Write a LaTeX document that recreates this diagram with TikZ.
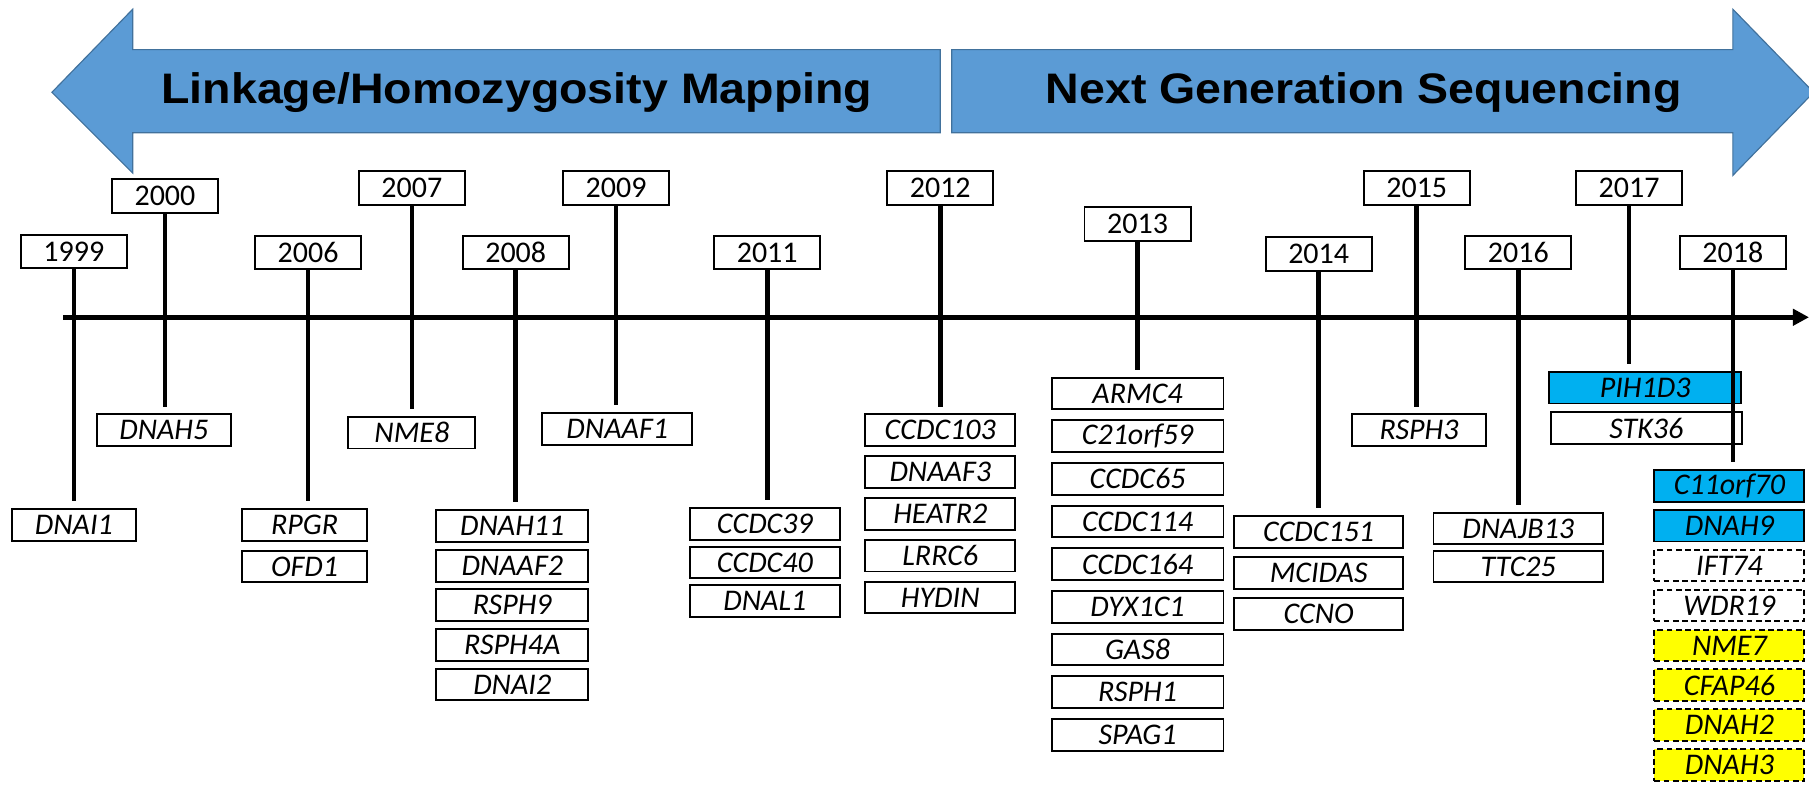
\documentclass[tikz,border=0pt]{standalone}
\usepackage{fontspec}
\setmainfont{Carlito}
\newfontfamily\bannerfont{Liberation Sans}
\usetikzlibrary{arrows.meta}

\definecolor{bannerblue}{HTML}{5B9BD5}
\definecolor{bannerline}{HTML}{41719C}
\definecolor{newcyan}{HTML}{00B0F0}
\definecolor{newyellow}{HTML}{FFFF00}

\tikzset{
  yearbox/.style={draw, line width=1.7pt, fill=white, minimum width=92pt,
    minimum height=29pt, inner sep=0pt, font=\fontsize{26}{26}\selectfont},
  genebox/.style={draw, line width=1.7pt, fill=white, minimum height=27.5pt,
    inner sep=0pt, font=\fontsize{26}{26}\selectfont\itshape},
  cyanbox/.style={genebox, fill=newcyan},
  dashbox/.style={genebox, dash pattern=on 5pt off 3pt},
  yellowbox/.style={dashbox, fill=newyellow},
  stem/.style={line width=4pt, shorten >=6pt},
  banner/.style={fill=bannerblue, draw=bannerline, line width=1pt},
  bannertext/.style={font=\bannerfont\bfseries\fontsize{37}{37}\selectfont}
}

\begin{document}
\begin{tikzpicture}[x=1pt, y=-1pt]
  \useasboundingbox (0,0) rectangle (1568,691);

  % 1. The two banner arrows
  \draw[banner] (45,80) -- (115,8) -- (115,43) -- (815,43) -- (815,115)
    -- (115,115) -- (115,150) -- cycle;
  \draw[banner] (825,43) -- (1502,43) -- (1502,8) -- (1572,80) -- (1502,152)
    -- (1502,115) -- (825,115) -- cycle;
  \node[bannertext] (linkage) at (448,80) {\scalebox{1.09}[1]{Linkage/Homozygosity Mapping}};
  \node[bannertext] (ngs) at (1182,80) {\scalebox{1.09}[1]{Next Generation Sequencing}};

  % 2. The time axis
  \coordinate (axisstart) at (55,275);
  \coordinate (axisend) at (1568,275);
  \draw[line width=4pt, -{Triangle[length=14pt, width=14pt]}] (axisstart) -- (axisend);

  % 3. Years with their genes (year/x/y of year/x of genes/y of first gene/step/width/genes)
  \foreach \yr/\yx/\yy/\gx/\gy/\dy/\bw/\genes in {
      1999/64/218/64/455/34/108/{DNAI1},
      2000/143/170/142/373/34/116/{DNAH5},
      2006/267/219/264/455/36/108/{RPGR,OFD1},
      2007/357/163/357/375/34/110/{NME8},
      2008/447/219/444/456/34.3/132/{DNAH11,DNAAF2,RSPH9,RSPH4A,DNAI2},
      2009/534/163/535/372/34/130/{DNAAF1},
      2011/665/219/663/454/33.5/130/{CCDC39,CCDC40,DNAL1},
      2012/815/163/815/373/36.2/130/{CCDC103,DNAAF3,HEATR2,LRRC6,HYDIN},
      2013/986/194/986/341/37/149/{ARMC4,C21orf59,CCDC65,CCDC114,CCDC164,DYX1C1,GAS8,RSPH1,SPAG1},
      2014/1143/220/1143/461/35.5/146/{CCDC151,MCIDAS,CCNO},
      2015/1228/163/1230/373/34/116/{RSPH3},
      2016/1316/219/1316/458/33/147/{DNAJB13,TTC25}} {
    \node[yearbox] (y\yr) at (\yx,\yy) {\yr};
    \foreach \g [count=\i] in \genes
      \node[genebox, minimum width=\bw pt] (g\yr-\i) at (\gx,{\gy+\dy*(\i-1)}) {\g};
    \draw[stem] (y\yr.south) -- (y\yr.south |- g\yr-1.north);
  }

  % 4. 2017, newly reported genes in cyan
  \node[yearbox] (y2017) at (1412,163) {2017};
  \node[cyanbox, minimum width=166pt] (g2017-1) at (1426,336) {PIH1D3};
  \node[genebox, minimum width=166pt] (g2017-2) at (1427,371) {STK36};
  \draw[stem] (y2017.south) -- (y2017.south |- g2017-1.north);

  % 5. 2018, cyan, dashed and yellow boxes
  \node[yearbox] (y2018) at (1502,219) {2018};
  \foreach \g/\s [count=\i] in {C11orf70/cyanbox, DNAH9/cyanbox, IFT74/dashbox,
      WDR19/dashbox, NME7/yellowbox, CFAP46/yellowbox, DNAH2/yellowbox, DNAH3/yellowbox}
    \node[\s, minimum width=130pt] (g2018-\i) at (1499,{421+34.6*(\i-1)}) {\g};
  \draw[stem] (y2018.south) -- (y2018.south |- g2018-1.north);
\end{tikzpicture}
\end{document}
